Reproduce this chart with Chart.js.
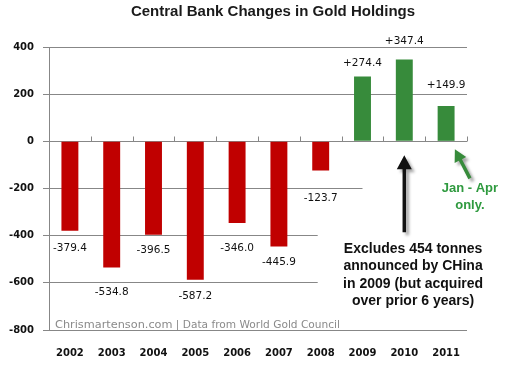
<!DOCTYPE html>
<html>
<head>
<meta charset="utf-8">
<script src="https://cdn.jsdelivr.net/npm/chart.js@4/dist/chart.umd.min.js"></script>
<style>
html,body{margin:0;padding:0;background:#fff;}
#wrap{width:517px;height:367px;position:relative;}
</style>
</head>
<body>
<div id="wrap"><canvas id="c" width="517" height="367"></canvas></div>
<script>
// ---- data ----
const years = ['2002','2003','2004','2005','2006','2007','2008','2009','2010','2011'];
const changes = [-379.4, -534.8, -396.5, -587.2, -346.0, -445.9, -123.7, 274.4, 347.4, 149.9];
const valueLabels = ['-379.4','-534.8','-396.5','-587.2','-346.0','-445.9','-123.7','+274.4','+347.4','+149.9'];
const yTicks = [400, 200, 0, -200, -400, -600, -800];
const titleText = 'Central Bank Changes in Gold Holdings';
const noteLines = ['Excludes 454 tonnes', 'announced by CHina', 'in 2009 (but acquired', 'over prior 6 years)'];
const partialLines = ['Jan - Apr', 'only.'];
const sourceMain = 'Chrismartenson.com';
const sourceRest = ' | Data from World Gold Council';

// ---- style ----
const RED = '#c00000', GREEN = '#378b3b', GRID = '#878787';
const labelGap = [17, 25, 15, 16, 25.5, 16, 28, 13, 18, 21];

const extras = {
  id: 'extras',
  beforeDatasetsDraw(chart) {
    const ctx = chart.ctx, x = chart.scales.x, y = chart.scales.y, ca = chart.chartArea;
    const cw = x.getPixelForValue(1) - x.getPixelForValue(0);
    ctx.save();
    ctx.fillStyle = '#fff';
    // white boxes of the annotations hiding grid lines
    const t1 = y.getPixelForValue(-300), b1 = y.getPixelForValue(-770);
    ctx.fillRect(x.getPixelForValue(6) - 3, t1, 300, b1 - t1);
    ctx.fillRect(x.getPixelForValue(7), y.getPixelForValue(-175), 300, 12);
    // ticks on the zero line
    ctx.strokeStyle = GRID; ctx.lineWidth = 1;
    const y0 = Math.round(y.getPixelForValue(0)) + 0.5;
    for (let i = 0; i <= years.length; i++) {
      const px = Math.round(ca.left + i*cw) + 0.5;
      ctx.beginPath(); ctx.moveTo(px, y0 - 5); ctx.lineTo(px, y0); ctx.stroke();
    }
    ctx.restore();
  },
  afterDatasetsDraw(chart) {
    const ctx = chart.ctx, x = chart.scales.x, y = chart.scales.y, ca = chart.chartArea;
    const cw = x.getPixelForValue(1) - x.getPixelForValue(0);
    ctx.save();
    // title
    ctx.textAlign = 'center'; ctx.textBaseline = 'middle';
    ctx.fillStyle = '#1a1a1a';
    ctx.font = 'bold 15px "Liberation Sans"';
    ctx.fillText(titleText, 273, 12);
    // value labels
    ctx.font = '10.5px "DejaVu Sans"';
    ctx.fillStyle = '#111';
    changes.forEach((v, i) => {
      const px = x.getPixelForValue(i);
      const end = y.getPixelForValue(v);
      const py = v < 0 ? end + labelGap[i] : end - labelGap[i];
      ctx.fillText(valueLabels[i], px, py);
    });
    // source text
    ctx.textAlign = 'left';
    ctx.fillStyle = '#8a8a8a';
    ctx.font = '11.3px "DejaVu Sans"';
    const sx = ca.left + 6, sy = ca.bottom - 5;
    ctx.fillText(sourceMain, sx, sy);
    const w1 = ctx.measureText(sourceMain).width;
    ctx.font = '10.6px "DejaVu Sans"';
    ctx.fillText(sourceRest, sx + w1, sy);
    // arrows
    function arrow(x1, y1, x2, y2, color, hw, hl, lw) {
      const ang = Math.atan2(y2 - y1, x2 - x1);
      const bx = x2 - hl*Math.cos(ang), by = y2 - hl*Math.sin(ang);
      ctx.save();
      ctx.shadowColor = 'rgba(0,0,0,0.35)';
      ctx.shadowOffsetX = 3; ctx.shadowOffsetY = 3; ctx.shadowBlur = 3;
      ctx.fillStyle = color;
      ctx.beginPath();
      const nx = -Math.sin(ang), ny = Math.cos(ang);
      ctx.moveTo(x1 + nx*lw/2, y1 + ny*lw/2);
      ctx.lineTo(bx + nx*lw/2, by + ny*lw/2);
      ctx.lineTo(bx + nx*hw/2, by + ny*hw/2);
      ctx.lineTo(x2, y2);
      ctx.lineTo(bx - nx*hw/2, by - ny*hw/2);
      ctx.lineTo(bx - nx*lw/2, by - ny*lw/2);
      ctx.lineTo(x1 - nx*lw/2, y1 - ny*lw/2);
      ctx.closePath(); ctx.fill();
      ctx.restore();
    }
    arrow(x.getPixelForValue(8), y.getPixelForValue(-385), x.getPixelForValue(8), y.getPixelForValue(-59), '#111', 15, 14, 3.5);
    arrow(x.getPixelForValue(9) + 0.57*cw, y.getPixelForValue(-157), x.getPixelForValue(9) + 0.21*cw, y.getPixelForValue(-34), GREEN, 13, 12, 3.5);
    // note text
    ctx.textAlign = 'center';
    ctx.fillStyle = '#111';
    ctx.font = 'bold 14px "Liberation Sans"';
    const nxp = x.getPixelForValue(8) + 0.21*cw;
    const ny0 = y.getPixelForValue(-456);
    noteLines.forEach((t, i) => ctx.fillText(t, nxp, ny0 + i*17.4));
    ctx.fillStyle = '#2f9a3f';
    ctx.font = 'bold 13px "Liberation Sans"';
    const jx = x.getPixelForValue(9) + 0.57*cw;
    const jy = y.getPixelForValue(-200);
    partialLines.forEach((t, i) => ctx.fillText(t, jx, jy + i*17));
    ctx.restore();
  }
};

new Chart(document.getElementById('c'), {
  type: 'bar',
  data: {
    labels: years,
    datasets: [{
      data: changes,
      backgroundColor: changes.map(v => v < 0 ? RED : GREEN),
      borderWidth: 0,
      barPercentage: 0.405,
      categoryPercentage: 1.0
    }]
  },
  options: {
    responsive: false,
    animation: false,
    devicePixelRatio: 1,
    layout: { padding: { left: 0, right: 50, top: 47, bottom: 0 } },
    plugins: {
      legend: { display: false },
      tooltip: { enabled: false },
      title: { display: false }
    },
    scales: {
      x: {
        grid: { display: false, drawTicks: false },
        border: { display: false },
        ticks: { color: '#111', font: { family: '"DejaVu Sans"', size: 10, weight: 'bold' }, padding: 17, maxRotation: 0, autoSkip: false },
        afterFit(s) { s.height = 37; }
      },
      y: {
        min: -800, max: 400,
        afterBuildTicks(s) { s.ticks = yTicks.map(v => ({ value: v })); },
        grid: { color: GRID, tickLength: 6, lineWidth: 1 },
        border: { color: GRID },
        ticks: { color: '#111', font: { family: '"DejaVu Sans"', size: 10, weight: 'bold' }, padding: 9 },
        afterFit(s) { s.width = 49; }
      }
    }
  },
  plugins: [extras]
});
</script>
</body>
</html>
